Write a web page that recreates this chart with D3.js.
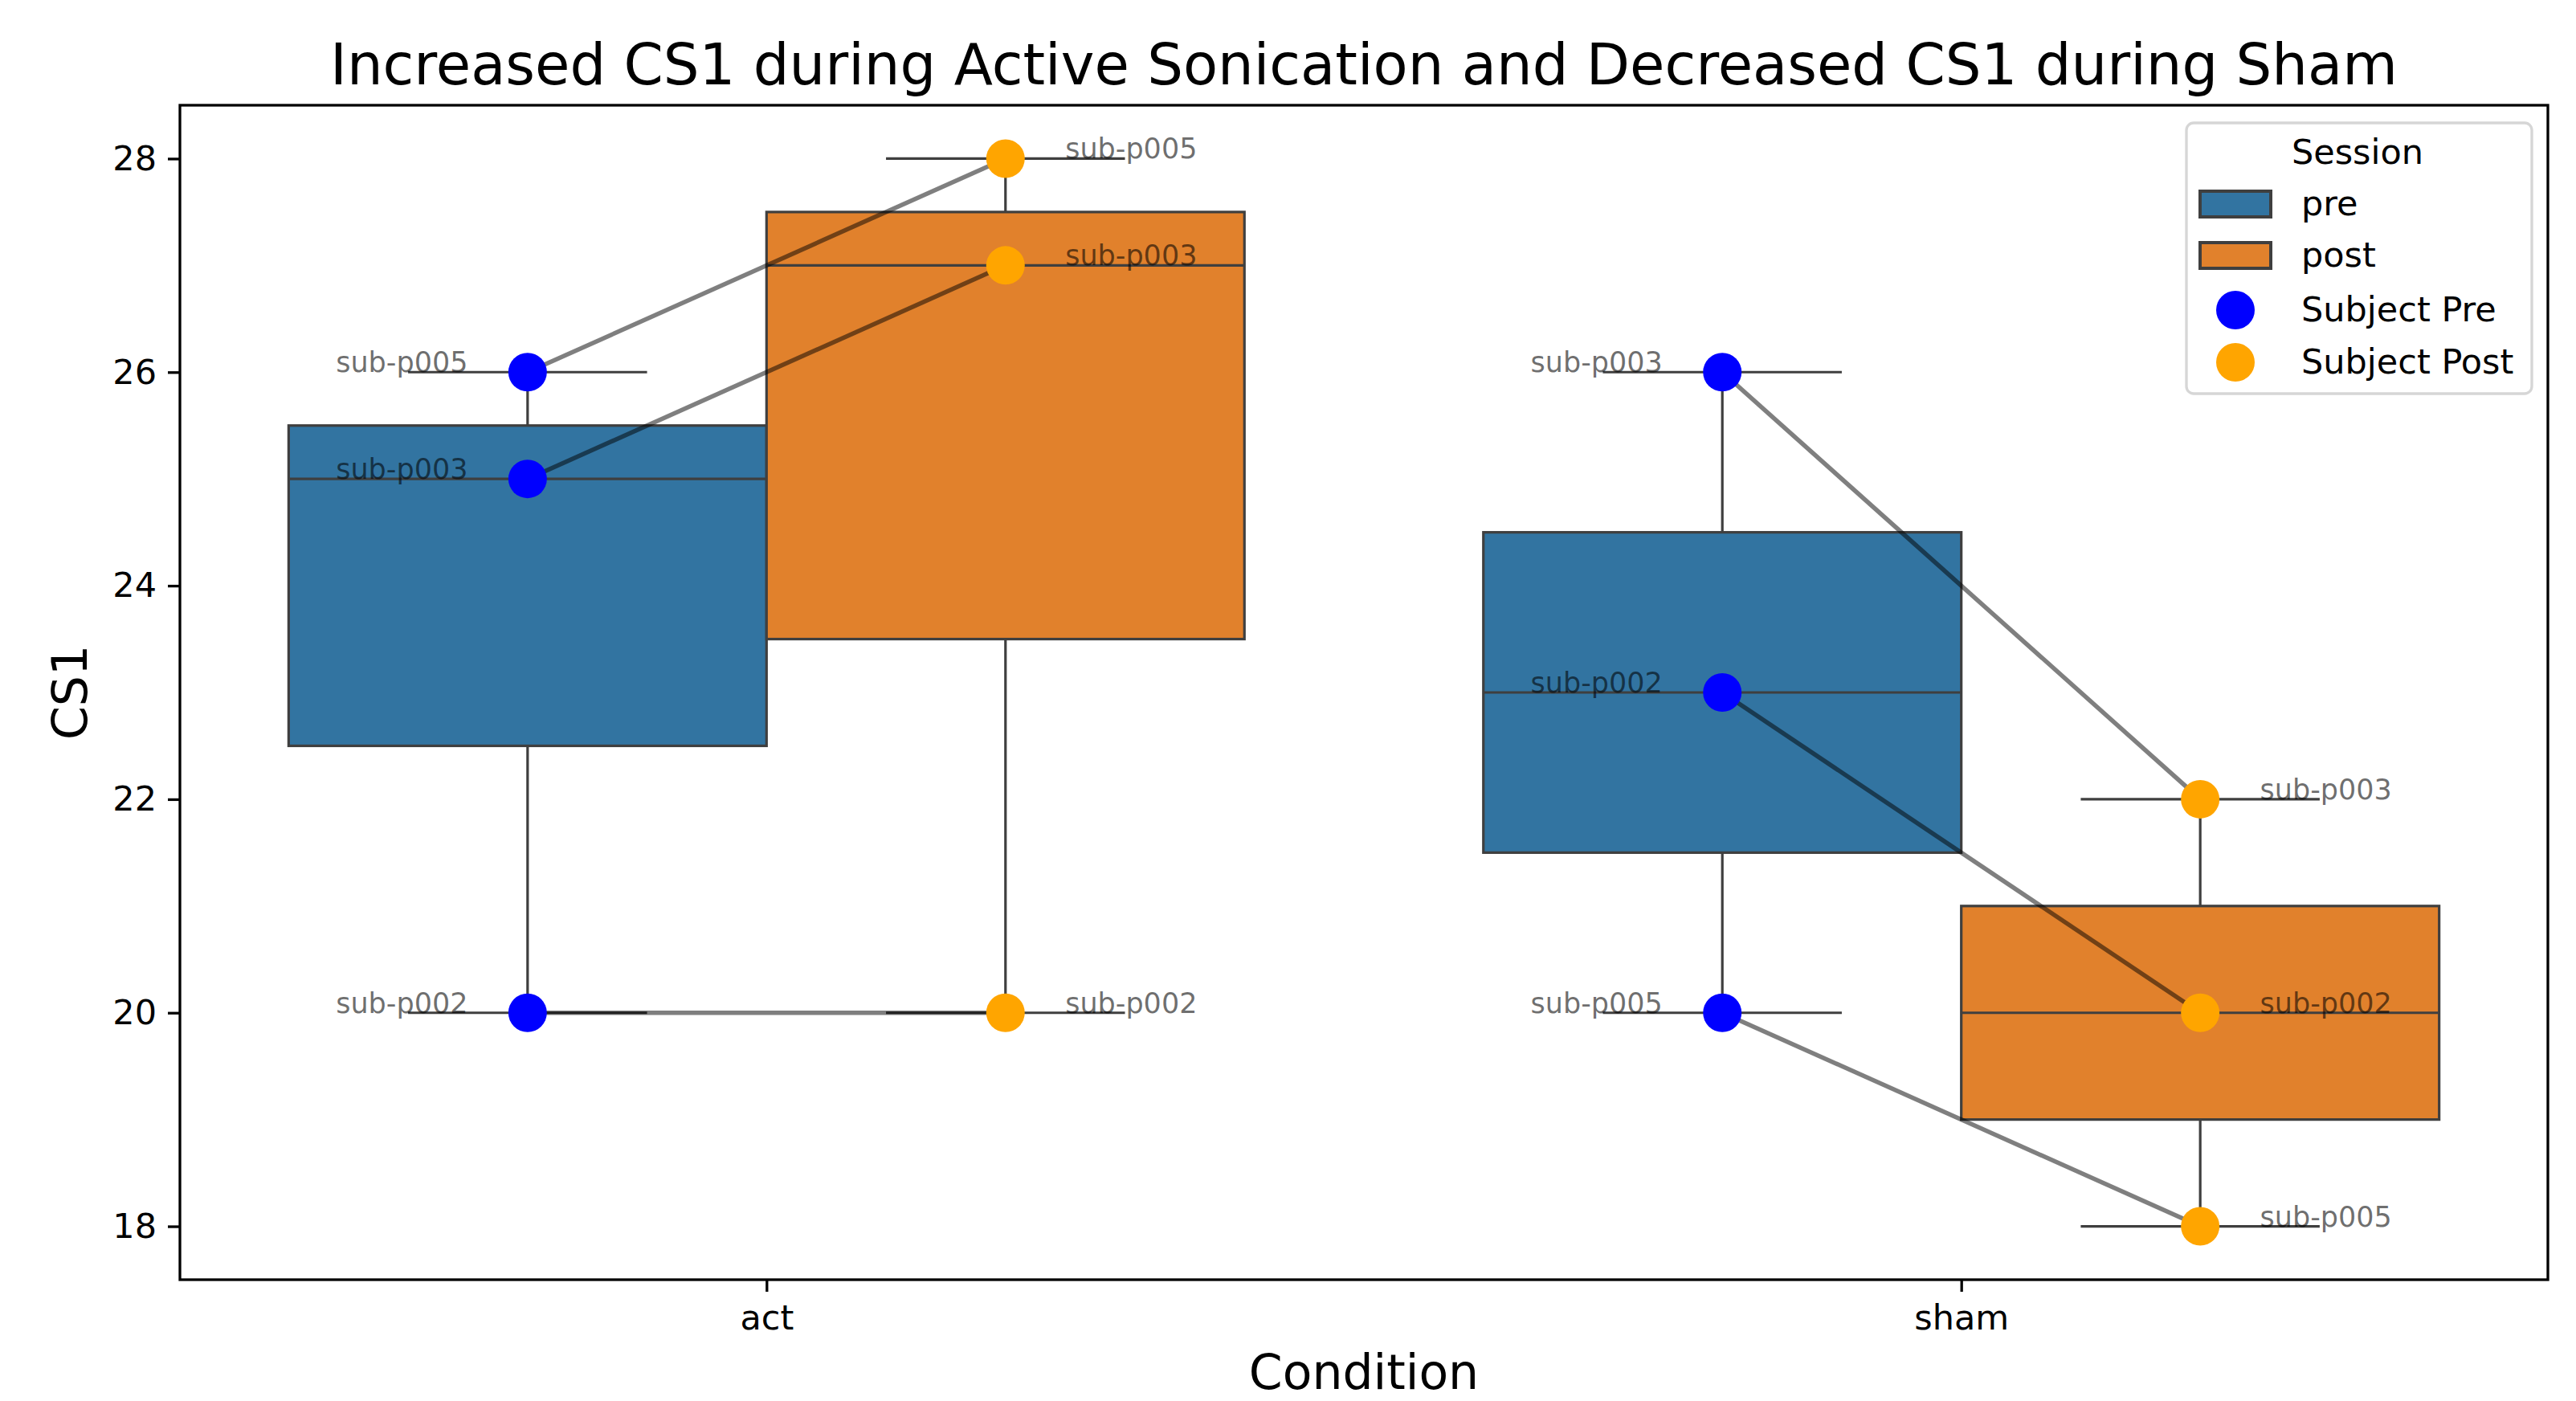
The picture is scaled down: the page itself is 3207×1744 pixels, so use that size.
<!DOCTYPE html>
<html>
<head>
<meta charset="utf-8">
<script src="https://cdn.jsdelivr.net/npm/d3@7"></script>
<style>
  body { margin: 0; background: #fff; }
  svg { display: block; font-family: "DejaVu Sans", sans-serif; }
</style>
</head>
<body>
<svg id="chart" width="3207" height="1744"></svg>
<script>
// data
const conditions = ["act", "sham"];
const sessions = ["pre", "post"];
const subjects = ["sub-p002", "sub-p003", "sub-p005"];
const actPre = [20, 25, 26];
const actPost = [20, 27, 28];
const shamPre = [23, 26, 20];
const shamPost = [20, 22, 18];
const yTicks = [18, 20, 22, 24, 26, 28];

const values = {
  act: { pre: actPre, post: actPost },
  sham: { pre: shamPre, post: shamPost }
};

const boxColor = { pre: "#3274a1", post: "#e1812c" };
const dotColor = { pre: "#0000ff", post: "#ffa500" };
const edge = "#3f3f3f";

const svg = d3.select("#chart");
const plotL = 224, plotR = 3172, plotT = 131, plotB = 1593;

const x = d3.scaleLinear().domain([-0.491, 1.491]).range([plotL, plotR]);
const y = d3.scaleLinear().domain([17.5, 28.5]).range([plotB, plotT]);

const boxW = 0.4;      // each hue box
const dodge = { pre: -0.2, post: 0.2 };

// boxes
const gBox = svg.append("g");
conditions.forEach((c, ci) => {
  sessions.forEach(s => {
    const v = values[c][s].slice().sort(d3.ascending);
    const q1 = d3.quantile(v, 0.25), med = d3.quantile(v, 0.5), q3 = d3.quantile(v, 0.75);
    const iqr = q3 - q1;
    const lo = d3.min(v.filter(d => d >= q1 - 1.5 * iqr));
    const hi = d3.max(v.filter(d => d <= q3 + 1.5 * iqr));
    const cx = ci + dodge[s];
    const x0 = x(cx - boxW / 2), x1 = x(cx + boxW / 2);
    const cap0 = x(cx - boxW / 4), cap1 = x(cx + boxW / 4);
    const g = gBox.append("g").attr("stroke", edge).attr("stroke-width", 3.2);
    // whiskers
    g.append("line").attr("x1", x(cx)).attr("x2", x(cx)).attr("y1", y(q1)).attr("y2", y(lo));
    g.append("line").attr("x1", x(cx)).attr("x2", x(cx)).attr("y1", y(q3)).attr("y2", y(hi));
    g.append("line").attr("x1", cap0).attr("x2", cap1).attr("y1", y(lo)).attr("y2", y(lo));
    g.append("line").attr("x1", cap0).attr("x2", cap1).attr("y1", y(hi)).attr("y2", y(hi));
    g.append("rect")
      .attr("x", x0).attr("y", y(q3))
      .attr("width", x1 - x0).attr("height", y(q1) - y(q3))
      .attr("fill", boxColor[s]);
    g.append("line").attr("x1", x0).attr("x2", x1).attr("y1", y(med)).attr("y2", y(med));
  });
});

// subject connecting lines
const gLines = svg.append("g");
conditions.forEach((c, ci) => {
  subjects.forEach((sub, i) => {
    gLines.append("line")
      .attr("x1", x(ci + dodge.pre)).attr("y1", y(values[c].pre[i]))
      .attr("x2", x(ci + dodge.post)).attr("y2", y(values[c].post[i]))
      .attr("stroke", "#000").attr("stroke-opacity", 0.5).attr("stroke-width", 5.5);
  });
});

// subject dots + labels
const gDots = svg.append("g");
const gLab = svg.append("g").attr("font-size", 35).attr("fill", "#000").attr("fill-opacity", 0.58);
conditions.forEach((c, ci) => {
  sessions.forEach(s => {
    subjects.forEach((sub, i) => {
      const cx = ci + dodge[s];
      gDots.append("circle")
        .attr("cx", x(cx)).attr("cy", y(values[c][s][i]))
        .attr("r", 24).attr("fill", dotColor[s]);
      gLab.append("text")
        .attr("x", s === "pre" ? x(cx - 0.05) : x(cx + 0.05))
        .attr("y", y(values[c][s][i]))
        .attr("text-anchor", s === "pre" ? "end" : "start")
        .text(sub);
    });
  });
});

// axes
const xAxis = d3.axisBottom(x).tickValues([0, 1]).tickFormat(i => conditions[i])
  .tickSizeInner(15).tickSizeOuter(0).tickPadding(14);
const yAxis = d3.axisLeft(y).tickValues(yTicks).tickFormat(d3.format("d"))
  .tickSizeInner(15).tickSizeOuter(0).tickPadding(14);

const gx = svg.append("g").attr("transform", `translate(0,${plotB})`).call(xAxis);
const gy = svg.append("g").attr("transform", `translate(${plotL},0)`).call(yAxis);
[gx, gy].forEach(g => {
  g.select(".domain").remove();
  g.selectAll(".tick line").attr("stroke", "#000").attr("stroke-width", 3.3);
  g.selectAll(".tick text").attr("font-size", 43).attr("fill", "#000")
    .attr("font-family", "DejaVu Sans");
});
gx.selectAll(".tick text").attr("dy", "0.76em");

// frame
svg.append("rect")
  .attr("x", plotL).attr("y", plotT)
  .attr("width", plotR - plotL).attr("height", plotB - plotT)
  .attr("fill", "none").attr("stroke", "#000").attr("stroke-width", 3.3);

// title and labels
svg.append("text").attr("x", (plotL + plotR) / 2).attr("y", 105)
  .attr("text-anchor", "middle").attr("font-size", 70.5)
  .text("Increased CS1 during Active Sonication and Decreased CS1 during Sham");
svg.append("text").attr("x", (plotL + plotR) / 2).attr("y", 1729)
  .attr("text-anchor", "middle").attr("font-size", 60).text("Condition");
svg.append("text")
  .attr("transform", `translate(108,${(plotT + plotB) / 2}) rotate(-90)`)
  .attr("text-anchor", "middle").attr("font-size", 60).text("CS1");

// legend
const lg = svg.append("g").attr("font-size", 43);
lg.append("rect").attr("x", 2722).attr("y", 153).attr("width", 430).attr("height", 337)
  .attr("rx", 9).attr("fill", "#fff").attr("fill-opacity", 0.8)
  .attr("stroke", "#d6d6d6").attr("stroke-width", 3.3);
lg.append("text").attr("x", 2935).attr("y", 204).attr("text-anchor", "middle").text("Session");
const legendItems = [
  { label: "pre", kind: "box", color: boxColor.pre },
  { label: "post", kind: "box", color: boxColor.post },
  { label: "Subject Pre", kind: "dot", color: dotColor.pre },
  { label: "Subject Post", kind: "dot", color: dotColor.post }
];
const rowY = [254, 318, 386, 451];
legendItems.forEach((it, i) => {
  const cy = rowY[i];
  if (it.kind === "box") {
    lg.append("rect").attr("x", 2739).attr("y", cy - 16).attr("width", 88).attr("height", 32)
      .attr("fill", it.color).attr("stroke", edge).attr("stroke-width", 4);
  } else {
    lg.append("circle").attr("cx", 2783).attr("cy", cy).attr("r", 24).attr("fill", it.color);
  }
  lg.append("text").attr("x", 2865).attr("y", cy + 14).text(it.label);
});
</script>
</body>
</html>
